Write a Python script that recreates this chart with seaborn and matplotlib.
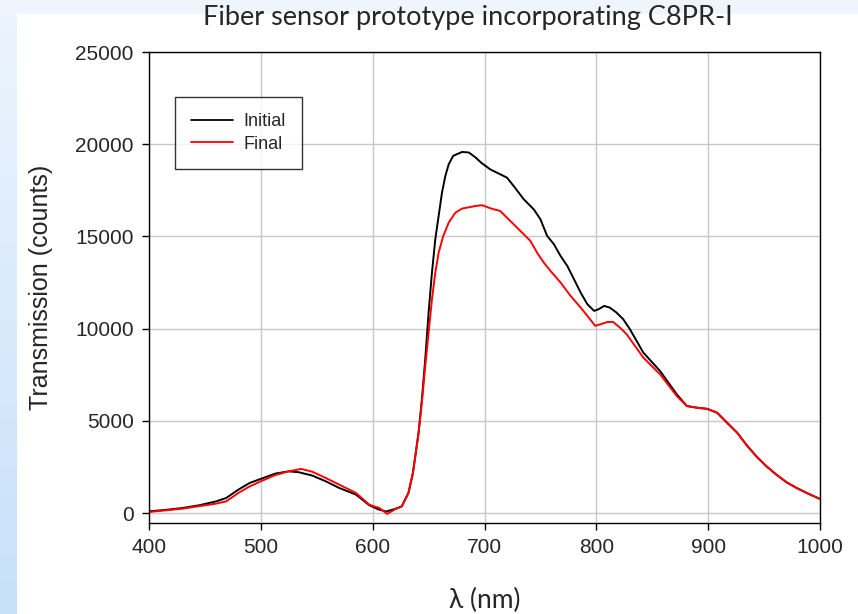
import numpy as np
import pandas as pd
import matplotlib
matplotlib.use("Agg")
import matplotlib.pyplot as plt
import seaborn as sns
from matplotlib.colors import LinearSegmentedColormap
from matplotlib.lines import Line2D

# ---- data ----
wl_initial = [400, 415, 430, 445, 460, 469, 480, 490, 500, 513, 525, 534, 546, 558, 570,
              585, 597, 605, 612, 620, 626, 632, 636, 641, 644, 647, 650, 653, 656, 659,
              662, 665, 668, 672, 680, 686, 692, 697, 705, 714, 720, 726, 735, 744, 750,
              756, 762, 768, 774, 780, 786, 792, 798, 802, 807, 812, 818, 824, 830, 842,
              857, 872, 881, 890, 899, 908, 917, 926, 934, 943, 952, 961, 970, 979, 988, 1000]
initial = [90, 170, 270, 420, 630, 815, 1270, 1630, 1850, 2140, 2260, 2210, 2030, 1720, 1360,
           1000, 420, 200, 80, 220, 360, 1090, 2170, 4340, 6150, 8330, 10860, 13030, 14840, 16110,
           17380, 18280, 18910, 19370, 19580, 19550, 19280, 19000, 18640, 18370, 18190, 17740, 17020, 16470, 15930,
           15030, 14580, 13940, 13400, 12680, 11950, 11320, 10960, 11050, 11230, 11140, 10870, 10510, 9970, 8700,
           7700, 6430, 5800, 5710, 5650, 5440, 4890, 4350, 3710, 3080, 2540, 2080, 1670, 1360, 1090, 760]

wl_final = [400, 430, 460, 469, 480, 489, 500, 513, 525, 536, 546, 558, 570, 585, 597,
            606, 613, 620, 626, 632, 636, 641, 644, 647, 650, 653, 656, 659, 663, 668,
            674, 680, 692, 698, 706, 714, 720, 726, 735, 741, 747, 753, 759, 768, 777,
            786, 792, 799, 804, 810, 815, 821, 827, 842, 857, 872, 881, 890, 899, 908,
            917, 926, 934, 943, 952, 961, 970, 979, 988, 1000]
final = [55, 235, 510, 630, 1090, 1410, 1720, 2060, 2260, 2390, 2240, 1900, 1540, 1090, 450,
         270, -50, 200, 360, 1090, 2170, 4300, 6000, 7960, 9770, 11580, 13030, 14120, 15000, 15750,
         16290, 16510, 16650, 16690, 16510, 16380, 16020, 15660, 15120, 14760, 14120, 13580, 13130, 12500, 11770,
         11140, 10690, 10150, 10240, 10360, 10360, 10060, 9700, 8430, 7520, 6340, 5800, 5710, 5650, 5440,
         4890, 4350, 3710, 3080, 2540, 2080, 1670, 1360, 1090, 760]

series_names = ["Initial", "Final"]
x_ticks = [400, 500, 600, 700, 800, 900, 1000]
y_ticks = [0, 5000, 10000, 15000, 20000, 25000]
title = "Fiber sensor prototype incorporating C8PR-I"
xlabel = "\u03bb (nm)"
ylabel = "Transmission (counts)"

df = pd.concat([
    pd.DataFrame({"wl": wl_initial, "val": initial, "series": series_names[0]}),
    pd.DataFrame({"wl": wl_final, "val": final, "series": series_names[1]}),
], ignore_index=True)

sns.set_style("white")
plt.rcParams["font.family"] = ["Liberation Sans", "DejaVu Sans"]

W, H = 858, 614
fig = plt.figure(figsize=(W / 100, H / 100), dpi=100, facecolor="white")

# slide-like background strips
bg = fig.add_axes([0, 0, 1, 1], zorder=-10)
bg.set_axis_off()
bg.set_xlim(0, W)
bg.set_ylim(H, 0)
bg.add_patch(plt.Rectangle((0, 0), W, 14, color="#eef5fd", lw=0))
grad = np.linspace(0, 1, 256).reshape(-1, 1)
cmap_bg = LinearSegmentedColormap.from_list("bgc", ["#edf5fd", "#c7e0fa"])
bg.imshow(grad, extent=[0, 17, H, 0], cmap=cmap_bg, aspect="auto", origin="upper")

ax = fig.add_axes([149 / W, 1 - 523 / H, (820 - 149) / W, (523 - 52) / H])
ax.set_facecolor("white")

sns.lineplot(data=df, x="wl", y="val", hue="series", hue_order=series_names,
             palette={"Initial": "black", "Final": "red"}, estimator=None, sort=False,
             linewidth=1.4, ax=ax, legend=False)

ax.set_xlim(400, 1000)
ax.set_ylim(-542, 25000)
ax.set_xticks(x_ticks)
ax.set_yticks(y_ticks)
ax.set_xticklabels([str(t) for t in x_ticks], fontsize=15)
ax.set_yticklabels([str(t) for t in y_ticks], fontsize=15)
ax.grid(True, color="#c8c8c8", linewidth=1)
ax.set_axisbelow(True)
for s in ax.spines.values():
    s.set_visible(True)
    s.set_color("black")
    s.set_linewidth(1)
ax.tick_params(axis="both", direction="out", length=5, width=1, color="black",
               bottom=True, left=True, top=False, right=False, pad=6)

ax.set_xlabel(xlabel, fontsize=19, family=["Lato", "DejaVu Sans"], labelpad=22)
ax.set_ylabel(ylabel, fontsize=18, labelpad=16)
fig.text(0.5455, 1 - 18 / H, title, fontsize=19.5, family=["Lato", "DejaVu Sans"],
         ha="center", va="center")

handles = [Line2D([], [], color="black", lw=1.3), Line2D([], [], color="red", lw=1.3)]
leg = ax.legend(handles, series_names, loc="upper left",
                bbox_to_anchor=(175 / W, 1 - 97 / H), bbox_transform=fig.transFigure,
                borderaxespad=0, fontsize=13, frameon=True, fancybox=False,
                edgecolor="black", handlelength=2.3, handletextpad=0.6,
                labelspacing=0.3, borderpad=0.9)
leg.get_frame().set_linewidth(1)

fig.savefig("out.png", dpi=100, facecolor="white")
